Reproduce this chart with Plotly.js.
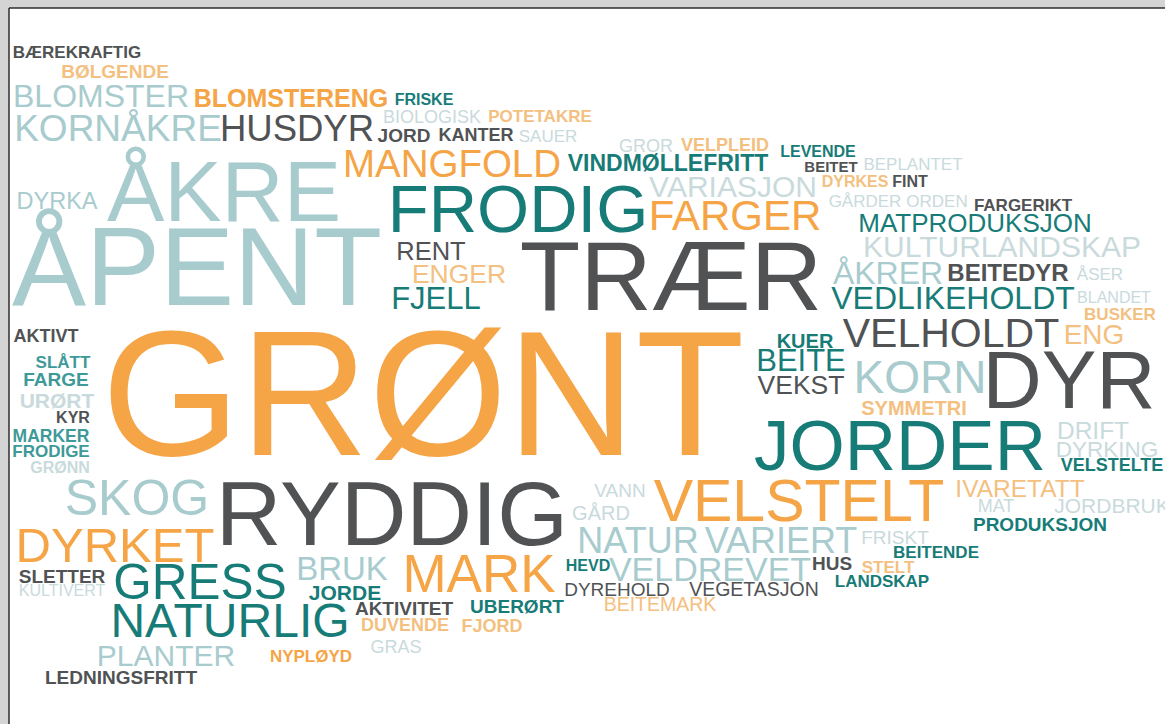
<!DOCTYPE html>
<html><head><meta charset="utf-8">
<script src="https://cdn.plot.ly/plotly-3.0.1.min.js"></script>
<style>html,body{margin:0;padding:0;background:#fff;overflow:hidden}#chart{width:1165px;height:724px}</style>
</head><body><div id="chart"></div>
<script>
// Word cloud: words and their weights (weight = font size in px)
const words = [
 "BÆREKRAFTIG","BØLGENDE","BLOMSTER","BLOMSTERENG","FRISKE","KORNÅKRE","HUSDYR","BIOLOGISK","POTETAKRE","JORD",
 "KANTER","SAUER","GROR","VELPLEID","LEVENDE","BEITET","BEPLANTET","DYRKES","FINT","GÅRDER",
 "ORDEN","FARGERIKT","MATPRODUKSJON","KULTURLANDSKAP","ÅKRER","BEITEDYR","ÅSER","VEDLIKEHOLDT","BLANDET","BUSKER",
 "VELHOLDT","ENG","KUER","BEITE","VEKST","KORN","DYR","SYMMETRI","JORDER","DRIFT",
 "DYRKING","VELSTELTE","IVARETATT","MAT","JORDBRUK","PRODUKSJON","FRISKT","BEITENDE","HUS","STELT",
 "LANDSKAP","VANN","GÅRD","VELSTELT","NATUR","VARIERT","HEVD","VELDREVET","DYREHOLD","VEGETASJON",
 "BEITEMARK","UBERØRT","FJORD","GRØNN","SKOG","RYDDIG","DYRKET","SLETTER","KULTIVERT","GRESS",
 "BRUK","JORDE","MARK","NATURLIG","AKTIVITET","DUVENDE","GRAS","NYPLØYD","PLANTER","LEDNINGSFRITT",
 "AKTIVT","SLÅTT","FARGE","URØRT","KYR","MARKER","FRODIGE","DYRKA","ÅKRE","ÅPENT",
 "MANGFOLD","VINDMØLLEFRITT","VARIASJON","FRODIG","FARGER","RENT","ENGER","FJELL","TRÆR","GRØNT"
];
const weights = [
 17,19,32,25,16,37,36.5,18,17,19,
 18,17,18,18,16,15,17,16,16,17,
 17,17,26,30,32,24,17,32,16,17,
 41,28,20,31,26.5,46,82,20,71,24.5,
 22.5,18,24.5,18,21,19,19,17,19,17,
 17,19,20,59,36,36,16,34,19,19.5,
 19.5,19,18,16,50,91,49,19,16,49.5,
 33,21,53,48,19,18,18,17,30,19,
 18,17,19,21,16,17.5,17,23.5,86,111,
 38.5,23,30,67,42,25.5,26.5,31,99,178
];
// Placement of each word (centre of the capital letters, in pixels)
const placeX = [
 77,115,101,291,424,118,297,432,540,404,
 476,548,646,725,818,831,913,855,910,865,
 937,1023,975,1002,888,1008,1100,953,1114,1120,
 951,1094,805,801,801,920,1069,914,900,1093,
 1107,1112,1020,996,1112,1040,895,936,832,888,
 882,620,601,799,638,781,588,710,617,754,
 660,517,492,60,137,392,115,62,62,200,
 342,345,479,230,404,405,396,311,166,121,
 46,63,56,57,73,51,51,57,224,197,
 452,668,733,518,735,431,459,436,671,423
];
const placeY = [
 52,72,96,99,100,129,129,117,116,136,
 135,136,146,145,152,167,164,182,182,201,
 201,205,223,247,273,273,274,298,298,314,
 333,335,341,361,385,378,381,408,447,431,
 450,465,489,506,506,525,538,552,564,567,
 581,491,513,502,541,541,566,570,590,590,
 605,607,626,468,498,515,546,577,591,583,
 569,593,575,621,609,625,647,656,656,678,
 336,362,380,401,418,436,451,201,193,268,
 164,163,187,210,216,252,274,299,277,396
];
const tone = [
 "DG","LO","LB","O","T","LB","DG","VL","LO","DG",
 "DG","VL","VL","LO","T","DG","VL","LO","DG","VL",
 "VL","DG","T","VL","LB","DG","VL","T","VL","LO",
 "DG","LO","T","T","DG","LB","DG","LO","T","VL",
 "VL","T","LO","VL","VL","T","VL","T","DG","LO",
 "T","VL","VL","O","LB","LB","T","LB","DG","DG",
 "LO","T","LO","VL","LB","DG","O","DG","VL","T",
 "LB","T","O","T","DG","LO","VL","O","LB","DG",
 "DG","MT","MT","VL","DG","MT","MT","LB","LB","LB",
 "O","T","VL","T","O","DG","LO","T","DG","O"
];
const heavy = [
 1,1,0,1,1,0,0,0,1,1,
 1,0,0,1,1,1,0,1,1,0,
 0,1,0,0,0,1,0,0,0,1,
 0,0,1,0,0,0,0,1,0,0,
 0,1,0,0,0,1,0,1,1,1,
 1,0,0,0,0,0,1,0,0,0,
 0,1,1,1,0,0,0,1,0,0,
 0,1,0,0,1,1,0,1,0,1,
 1,1,1,1,1,1,1,0,0,0,
 0,1,0,0,0,0,0,0,0,0
];
const palette = {O:"#F5A446", LO:"#F4C07F", T:"#177C78", MT:"#3D9A98", LB:"#A8CBCE", VL:"#C9DADC", DG:"#505254"};
// Plotly's "middle" sits slightly above the cap centre; compensate per font size
const CAP_SHIFT = 0.08;

const trace = {
  type: "scatter", mode: "text",
  x: placeX, y: placeY.map((v, i) => v + CAP_SHIFT * weights[i]),
  text: words.map((w, i) => heavy[i] ? "<b>" + w + "</b>" : w),
  textposition: "middle center",
  textfont: {family: "Liberation Sans, Arial, sans-serif", size: weights, color: tone.map(t => palette[t])},
  hoverinfo: "none"
};
const layout = {
  width: 1165, height: 724,
  margin: {l: 9, t: 8, r: 0, b: 0, pad: 0},
  paper_bgcolor: "#d4d4d4", plot_bgcolor: "#ffffff",
  showlegend: false,
  xaxis: {range: [9, 1165], visible: false, fixedrange: true},
  yaxis: {range: [724, 8], visible: false, fixedrange: true},
  shapes: [
    {type: "line", xref: "paper", yref: "paper", x0: 0, x1: 0, y0: 0, y1: 1, line: {color: "#2e2e2e", width: 1.5}},
    {type: "line", xref: "paper", yref: "paper", x0: 0, x1: 1, y0: 1, y1: 1, line: {color: "#2e2e2e", width: 1.5}}
  ]
};
Plotly.newPlot("chart", [trace], layout, {staticPlot: true, displayModeBar: false});
</script>
</body></html>
